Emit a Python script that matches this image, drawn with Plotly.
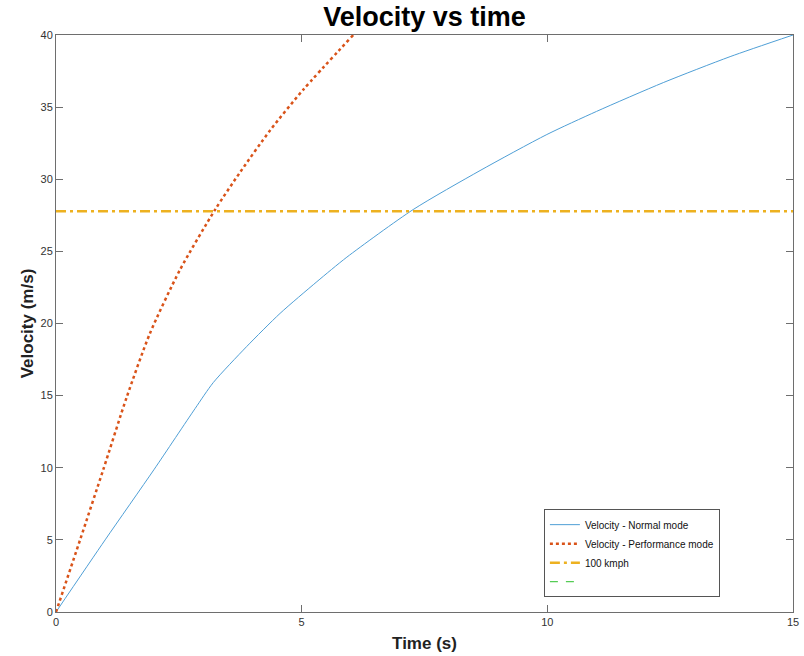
import plotly.graph_objects as go

# Normal mode velocity
t_normal = [0, 1, 2, 2.83, 3.2, 3.88, 4.56, 5.31, 5.92, 7.27, 8.63, 9.99, 11.0, 12.36, 13.72, 15]
v_normal = [0, 5.0, 9.9, 14.1, 15.9, 18.4, 20.7, 22.9, 24.6, 27.9, 30.6, 33.1, 34.7, 36.7, 38.5, 40]

# Performance mode velocity
t_perf = [0, 0.49, 0.96, 1.44, 1.91, 2.52, 3.24, 3.75, 4.36, 5.03, 6.05]
v_perf = [0, 5.0, 9.85, 14.9, 19.3, 23.7, 27.9, 30.5, 33.4, 36.2, 40]

# 100 km/h reference
t_ref = [0, 15]
v_ref = [27.78, 27.78]

x_ticks = [0, 5, 10, 15]
y_ticks = [0, 5, 10, 15, 20, 25, 30, 35, 40]

FONT = "Liberation Sans, Arial"

fig = go.Figure()
fig.add_trace(go.Scatter(x=t_normal, y=v_normal, mode="lines", name="Velocity - Normal mode",
                         line=dict(color="#4f9fd6", width=1, shape="spline", smoothing=0.7)))
fig.add_trace(go.Scatter(x=t_perf, y=v_perf, mode="lines", name="Velocity - Performance mode",
                         line=dict(color="#D95319", width=2.5, dash="3px,3px", shape="spline", smoothing=0.7)))
fig.add_trace(go.Scatter(x=t_ref, y=v_ref, mode="lines", name="100 kmph",
                         line=dict(color="#EDB120", width=2.5, dash="10px,4px,3px,4px")))
fig.add_trace(go.Scatter(x=[0], y=[None], mode="lines", name=" ",
                         line=dict(color="#55cc55", width=1.3, dash="8px,8px")))

axis_common = dict(showline=True, linecolor="#6e6e6e", linewidth=1, mirror="ticks",
                   ticks="inside", ticklen=7, tickcolor="#6e6e6e", showgrid=False, zeroline=False,
                   ticklabeloverflow="allow",
                   tickfont=dict(family=FONT, size=11, color="#333333"))

fig.update_layout(
    width=804, height=656,
    margin=dict(l=56, r=11, t=35, b=44, autoexpand=False),
    plot_bgcolor="white", paper_bgcolor="white",
    title=dict(text="<b>Velocity vs time</b>", x=0.5, xref="paper", xanchor="center",
               y=1 - 17/656, yanchor="middle", yref="container",
               font=dict(family=FONT, size=27, color="black")),
    xaxis=dict(range=[0, 15], tickvals=x_ticks,
               title=dict(text="<b>Time (s)</b>", standoff=9,
                          font=dict(family=FONT, size=17, color="#222222")),
               **axis_common),
    yaxis=dict(range=[0, 40], tickvals=y_ticks,
               title=dict(text="<b>Velocity (m/s)</b>", standoff=2,
                          font=dict(family=FONT, size=17, color="#222222")),
               **axis_common),
    legend=dict(x=0.662, y=0.102, xanchor="left", yanchor="middle",
                bgcolor="white", bordercolor="#555555", borderwidth=1,
                font=dict(family=FONT, size=10, color="#111111"),
                itemwidth=30, tracegroupgap=0),
    showlegend=True,
)

fig.write_html("out.html", config={"displayModeBar": False},
               post_script="document.body.style.margin='0';document.body.style.overflow='hidden';")
